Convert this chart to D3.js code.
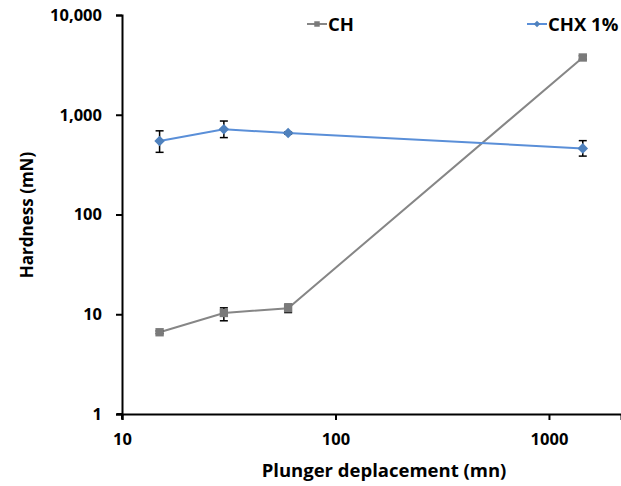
<!DOCTYPE html>
<html><head><meta charset="utf-8">
<script src="https://cdn.jsdelivr.net/npm/d3@7"></script>
<style>body{margin:0;background:#fff}svg{display:block}text{font-family:"Open Sans","Liberation Sans",sans-serif;font-weight:bold}</style>
</head><body>
<svg id="c" width="621" height="486"></svg>
<script>
const xValues = [15, 30, 60, 1440];
const chValues = [6.6, 10.3, 11.5, 3750];
const chErrLow = [6.4, 8.6, 10.4, 3600];
const chErrHigh = [6.8, 11.6, 12.6, 3900];
const chxValues = [545, 715, 655, 460];
const chxErrLow = [420, 590, 640, 385];
const chxErrHigh = [690, 865, 670, 550];
const yTicks = [1, 10, 100, 1000, 10000];
const xTicks = [10, 100, 1000];
const seriesNames = ["CH", "CHX 1%"];

(function () {
const svg = d3.select("#c");
const mLeft = 122, mRight = 621, mTop = 15, mBottom = 414;
const x = d3.scaleLog().domain([10, 2175]).range([mLeft, mRight]);
const y = d3.scaleLog().domain([1, 10000]).range([mBottom, mTop]);

const xAxis = svg.append("g").attr("transform", `translate(0,${mBottom})`)
  .call(d3.axisBottom(x).tickValues(xTicks).tickFormat(d3.format("d")).tickSizeOuter(0).tickSize(6).tickPadding(13));
const yAxis = svg.append("g").attr("transform", `translate(${mLeft},0)`)
  .call(d3.axisLeft(y).tickValues(yTicks).tickFormat(d3.format(",")).tickSizeOuter(0).tickSize(6).tickPadding(14));
[xAxis, yAxis].forEach(a => {
  a.select(".domain").attr("stroke", "#000").attr("stroke-width", 2);
  a.selectAll(".tick line").attr("stroke", "#000").attr("stroke-width", 2);
  a.selectAll(".tick text").attr("fill", "#000").style("font-size", "16.5px");
});
svg.append("line").attr("x1", mLeft - 5).attr("x2", mLeft).attr("y1", mBottom).attr("y2", mBottom).attr("stroke", "#000").attr("stroke-width", 2);
svg.append("line").attr("x1", mLeft).attr("x2", mLeft).attr("y1", mBottom).attr("y2", mBottom + 5).attr("stroke", "#000").attr("stroke-width", 2);

svg.append("text").attr("x", 384).attr("y", 477).attr("text-anchor", "middle").style("font-size", "18.5px").text("Plunger deplacement (mn)");
svg.append("text").attr("transform", "translate(33,215) rotate(-90)").attr("text-anchor", "middle").style("font-size", "17px").text("Hardness (mN)");

function drawSeries(vals, lo, hi, color, markerColor, diamond) {
  const line = d3.line().x((d, i) => x(xValues[i])).y(d => y(d));
  svg.append("path").datum(vals).attr("d", line).attr("fill", "none").attr("stroke", color).attr("stroke-width", 2);
  const g = svg.append("g");
  vals.forEach((v, i) => {
    const cx = x(xValues[i]);
    g.append("line").attr("x1", cx).attr("x2", cx).attr("y1", y(lo[i])).attr("y2", y(hi[i])).attr("stroke", "#000").attr("stroke-width", 1.5);
    [lo[i], hi[i]].forEach(e => g.append("line").attr("x1", cx - 4).attr("x2", cx + 4).attr("y1", y(e)).attr("y2", y(e)).attr("stroke", "#000").attr("stroke-width", 1.5));
  });
  vals.forEach((v, i) => {
    g.append("path")
      .attr("d", d3.symbol().type(d3.symbolSquare).size(diamond ? 56 : 70)())
      .attr("fill", markerColor)
      .attr("transform", `translate(${x(xValues[i])},${y(v)})${diamond ? " rotate(45)" : ""}`);
  });
}
drawSeries(chValues, chErrLow, chErrHigh, "#868686", "#7a7a7a", false);
drawSeries(chxValues, chxErrLow, chxErrHigh, "#5a8fd8", "#4f81bd", true);

function legendItem(x0, name, color, markerColor, diamond) {
  svg.append("line").attr("x1", x0).attr("x2", x0 + 20).attr("y1", 24).attr("y2", 24).attr("stroke", color).attr("stroke-width", 2);
  svg.append("path").attr("d", d3.symbol().type(d3.symbolSquare).size(diamond ? 22 : 30)())
    .attr("transform", `translate(${x0 + 10},24)${diamond ? " rotate(45)" : ""}`).attr("fill", markerColor);
  svg.append("text").attr("x", x0 + 21).attr("y", 30.5).style("font-size", "18.5px").text(name);
}
legendItem(307, seriesNames[0], "#868686", "#7a7a7a", false);
legendItem(527, seriesNames[1], "#5a8fd8", "#4f81bd", true);
})();
</script>
</body></html>
